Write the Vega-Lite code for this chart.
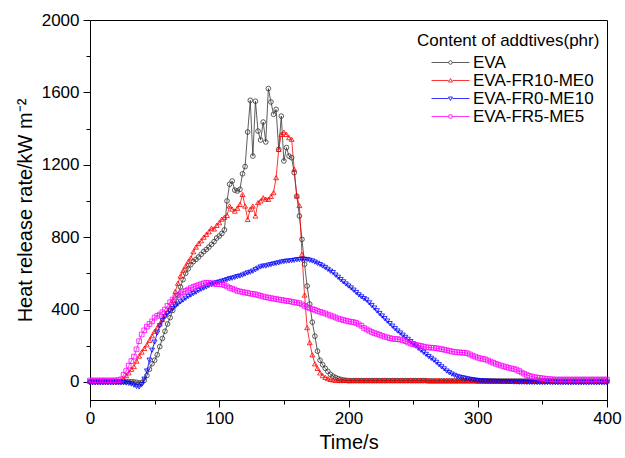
{
"$schema": "https://vega.github.io/schema/vega-lite/v6.json",
"width": 517, "height": 380,
"autosize": "none",
"padding": {"left": 90, "top": 20, "right": 18, "bottom": 58},
"background": "white",
"config": {
  "view": {"stroke": "black", "strokeWidth": 1},
  "font": "Liberation Sans",
  "axis": {"domainColor": "black", "tickColor": "black", "labelColor": "black", "titleColor": "black", "labelFontSize": 17, "titleFontSize": 20, "titleFontWeight": "normal", "labelFont": "Liberation Sans", "titleFont": "Liberation Sans", "grid": false, "tickWidth": 1, "domainWidth": 1},
  "legend": {"labelFont": "Liberation Sans", "titleFont": "Liberation Sans"}
},
"data": {"values": [
{"s":"EVA","t":0,"v":2},{"s":"EVA","t":2,"v":2},{"s":"EVA","t":4,"v":2},{"s":"EVA","t":6,"v":2},{"s":"EVA","t":8,"v":2},{"s":"EVA","t":10,"v":2},{"s":"EVA","t":12,"v":2},{"s":"EVA","t":14,"v":2},{"s":"EVA","t":16,"v":2},{"s":"EVA","t":18,"v":2},
{"s":"EVA","t":20,"v":2},{"s":"EVA","t":22,"v":2},{"s":"EVA","t":24,"v":2},{"s":"EVA","t":26,"v":2},{"s":"EVA","t":28,"v":2},{"s":"EVA","t":30,"v":2},{"s":"EVA","t":32,"v":1},{"s":"EVA","t":34,"v":0},{"s":"EVA","t":36,"v":-2},{"s":"EVA","t":38,"v":-6},
{"s":"EVA","t":40,"v":-4},{"s":"EVA","t":42,"v":8},{"s":"EVA","t":44,"v":35},{"s":"EVA","t":46,"v":70},{"s":"EVA","t":48,"v":100},{"s":"EVA","t":50,"v":120},{"s":"EVA","t":52,"v":150},{"s":"EVA","t":54,"v":195},{"s":"EVA","t":56,"v":240},{"s":"EVA","t":58,"v":280},
{"s":"EVA","t":60,"v":320},{"s":"EVA","t":62,"v":355},{"s":"EVA","t":64,"v":395},{"s":"EVA","t":66,"v":430},{"s":"EVA","t":68,"v":480},{"s":"EVA","t":70,"v":525},{"s":"EVA","t":72,"v":565},{"s":"EVA","t":74,"v":600},{"s":"EVA","t":76,"v":625},{"s":"EVA","t":78,"v":648},
{"s":"EVA","t":80,"v":665},{"s":"EVA","t":82,"v":677},{"s":"EVA","t":84,"v":690},{"s":"EVA","t":86,"v":705},{"s":"EVA","t":88,"v":720},{"s":"EVA","t":90,"v":732},{"s":"EVA","t":92,"v":745},{"s":"EVA","t":94,"v":760},{"s":"EVA","t":96,"v":775},{"s":"EVA","t":98,"v":795},
{"s":"EVA","t":100,"v":806},{"s":"EVA","t":102,"v":820},{"s":"EVA","t":104,"v":840},{"s":"EVA","t":106,"v":1000},{"s":"EVA","t":108,"v":1092},{"s":"EVA","t":110,"v":1110},{"s":"EVA","t":112,"v":1060},{"s":"EVA","t":114,"v":1055},{"s":"EVA","t":116,"v":1064},{"s":"EVA","t":118,"v":1150},
{"s":"EVA","t":120,"v":1190},{"s":"EVA","t":122,"v":1381},{"s":"EVA","t":124,"v":1556},{"s":"EVA","t":126,"v":1248},{"s":"EVA","t":128,"v":1551},{"s":"EVA","t":130,"v":1386},{"s":"EVA","t":132,"v":1337},{"s":"EVA","t":134,"v":1436},{"s":"EVA","t":136,"v":1326},{"s":"EVA","t":138,"v":1621},
{"s":"EVA","t":140,"v":1547},{"s":"EVA","t":142,"v":1479},{"s":"EVA","t":144,"v":1506},{"s":"EVA","t":146,"v":1285},{"s":"EVA","t":148,"v":1469},{"s":"EVA","t":150,"v":1221},{"s":"EVA","t":152,"v":1295},{"s":"EVA","t":154,"v":1248},{"s":"EVA","t":156,"v":1239},{"s":"EVA","t":158,"v":1156},
{"s":"EVA","t":160,"v":1027},{"s":"EVA","t":162,"v":917},{"s":"EVA","t":164,"v":788},{"s":"EVA","t":166,"v":650},{"s":"EVA","t":168,"v":530},{"s":"EVA","t":170,"v":430},{"s":"EVA","t":172,"v":330},{"s":"EVA","t":174,"v":253},{"s":"EVA","t":176,"v":170},{"s":"EVA","t":178,"v":120},
{"s":"EVA","t":180,"v":95},{"s":"EVA","t":182,"v":75},{"s":"EVA","t":184,"v":58},{"s":"EVA","t":186,"v":42},{"s":"EVA","t":188,"v":32},{"s":"EVA","t":190,"v":24},{"s":"EVA","t":192,"v":18},{"s":"EVA","t":194,"v":14},{"s":"EVA","t":196,"v":11},{"s":"EVA","t":198,"v":9},
{"s":"EVA","t":200,"v":7},{"s":"EVA","t":202,"v":7},{"s":"EVA","t":204,"v":7},{"s":"EVA","t":206,"v":7},{"s":"EVA","t":208,"v":7},{"s":"EVA","t":210,"v":7},{"s":"EVA","t":212,"v":7},{"s":"EVA","t":214,"v":7},{"s":"EVA","t":216,"v":7},{"s":"EVA","t":218,"v":7},
{"s":"EVA","t":220,"v":7},{"s":"EVA","t":222,"v":7},{"s":"EVA","t":224,"v":7},{"s":"EVA","t":226,"v":7},{"s":"EVA","t":228,"v":7},{"s":"EVA","t":230,"v":7},{"s":"EVA","t":232,"v":7},{"s":"EVA","t":234,"v":7},{"s":"EVA","t":236,"v":7},{"s":"EVA","t":238,"v":7},
{"s":"EVA","t":240,"v":7},{"s":"EVA","t":242,"v":7},{"s":"EVA","t":244,"v":7},{"s":"EVA","t":246,"v":7},{"s":"EVA","t":248,"v":7},{"s":"EVA","t":250,"v":7},{"s":"EVA","t":252,"v":7},{"s":"EVA","t":254,"v":7},{"s":"EVA","t":256,"v":7},{"s":"EVA","t":258,"v":7},
{"s":"EVA","t":260,"v":7},{"s":"EVA","t":262,"v":5},{"s":"EVA","t":264,"v":5},{"s":"EVA","t":266,"v":5},{"s":"EVA","t":268,"v":5},{"s":"EVA","t":270,"v":5},{"s":"EVA","t":272,"v":5},{"s":"EVA","t":274,"v":5},{"s":"EVA","t":276,"v":5},{"s":"EVA","t":278,"v":5},
{"s":"EVA","t":280,"v":5},{"s":"EVA","t":282,"v":5},{"s":"EVA","t":284,"v":5},{"s":"EVA","t":286,"v":5},{"s":"EVA","t":288,"v":5},{"s":"EVA","t":290,"v":5},{"s":"EVA","t":292,"v":5},{"s":"EVA","t":294,"v":5},{"s":"EVA","t":296,"v":5},{"s":"EVA","t":298,"v":5},
{"s":"EVA","t":300,"v":5},{"s":"EVA","t":302,"v":5},{"s":"EVA","t":304,"v":5},{"s":"EVA","t":306,"v":5},{"s":"EVA","t":308,"v":5},{"s":"EVA","t":310,"v":5},{"s":"EVA","t":312,"v":5},{"s":"EVA","t":314,"v":5},{"s":"EVA","t":316,"v":5},{"s":"EVA","t":318,"v":5},
{"s":"EVA","t":320,"v":5},{"s":"EVA","t":322,"v":5},{"s":"EVA","t":324,"v":5},{"s":"EVA","t":326,"v":5},{"s":"EVA","t":328,"v":5},{"s":"EVA","t":330,"v":5},{"s":"EVA","t":332,"v":5},{"s":"EVA","t":334,"v":5},{"s":"EVA","t":336,"v":5},{"s":"EVA","t":338,"v":5},
{"s":"EVA","t":340,"v":5},{"s":"EVA","t":342,"v":5},{"s":"EVA","t":344,"v":5},{"s":"EVA","t":346,"v":5},{"s":"EVA","t":348,"v":5},{"s":"EVA","t":350,"v":5},{"s":"EVA","t":352,"v":5},{"s":"EVA","t":354,"v":5},{"s":"EVA","t":356,"v":5},{"s":"EVA","t":358,"v":5},
{"s":"EVA","t":360,"v":5},{"s":"EVA","t":362,"v":5},{"s":"EVA","t":364,"v":5},{"s":"EVA","t":366,"v":5},{"s":"EVA","t":368,"v":5},{"s":"EVA","t":370,"v":5},{"s":"EVA","t":372,"v":5},{"s":"EVA","t":374,"v":5},{"s":"EVA","t":376,"v":5},{"s":"EVA","t":378,"v":5},
{"s":"EVA","t":380,"v":5},{"s":"EVA","t":382,"v":5},{"s":"EVA","t":384,"v":5},{"s":"EVA","t":386,"v":5},{"s":"EVA","t":388,"v":5},{"s":"EVA","t":390,"v":5},{"s":"EVA","t":392,"v":5},{"s":"EVA","t":394,"v":5},{"s":"EVA","t":396,"v":5},{"s":"EVA","t":398,"v":5},{"s":"EVA","t":400,"v":5},
{"s":"EVA-FR10-ME0","t":0,"v":2},{"s":"EVA-FR10-ME0","t":2,"v":2},{"s":"EVA-FR10-ME0","t":4,"v":2},{"s":"EVA-FR10-ME0","t":6,"v":2},{"s":"EVA-FR10-ME0","t":8,"v":2},{"s":"EVA-FR10-ME0","t":10,"v":2},{"s":"EVA-FR10-ME0","t":12,"v":2},{"s":"EVA-FR10-ME0","t":14,"v":2},{"s":"EVA-FR10-ME0","t":16,"v":2},{"s":"EVA-FR10-ME0","t":18,"v":2},
{"s":"EVA-FR10-ME0","t":20,"v":2},{"s":"EVA-FR10-ME0","t":22,"v":2},{"s":"EVA-FR10-ME0","t":24,"v":2},{"s":"EVA-FR10-ME0","t":26,"v":15},{"s":"EVA-FR10-ME0","t":28,"v":35},{"s":"EVA-FR10-ME0","t":30,"v":50},{"s":"EVA-FR10-ME0","t":32,"v":70},{"s":"EVA-FR10-ME0","t":34,"v":85},{"s":"EVA-FR10-ME0","t":36,"v":115},{"s":"EVA-FR10-ME0","t":38,"v":143},
{"s":"EVA-FR10-ME0","t":40,"v":165},{"s":"EVA-FR10-ME0","t":42,"v":185},{"s":"EVA-FR10-ME0","t":44,"v":205},{"s":"EVA-FR10-ME0","t":46,"v":230},{"s":"EVA-FR10-ME0","t":48,"v":255},{"s":"EVA-FR10-ME0","t":50,"v":280},{"s":"EVA-FR10-ME0","t":52,"v":300},{"s":"EVA-FR10-ME0","t":54,"v":320},{"s":"EVA-FR10-ME0","t":56,"v":345},{"s":"EVA-FR10-ME0","t":58,"v":370},
{"s":"EVA-FR10-ME0","t":60,"v":390},{"s":"EVA-FR10-ME0","t":62,"v":415},{"s":"EVA-FR10-ME0","t":64,"v":450},{"s":"EVA-FR10-ME0","t":66,"v":500},{"s":"EVA-FR10-ME0","t":68,"v":545},{"s":"EVA-FR10-ME0","t":70,"v":585},{"s":"EVA-FR10-ME0","t":72,"v":615},{"s":"EVA-FR10-ME0","t":74,"v":640},{"s":"EVA-FR10-ME0","t":76,"v":665},{"s":"EVA-FR10-ME0","t":78,"v":685},
{"s":"EVA-FR10-ME0","t":80,"v":720},{"s":"EVA-FR10-ME0","t":82,"v":745},{"s":"EVA-FR10-ME0","t":84,"v":765},{"s":"EVA-FR10-ME0","t":86,"v":780},{"s":"EVA-FR10-ME0","t":88,"v":800},{"s":"EVA-FR10-ME0","t":90,"v":815},{"s":"EVA-FR10-ME0","t":92,"v":830},{"s":"EVA-FR10-ME0","t":94,"v":850},{"s":"EVA-FR10-ME0","t":96,"v":845},{"s":"EVA-FR10-ME0","t":98,"v":865},
{"s":"EVA-FR10-ME0","t":100,"v":880},{"s":"EVA-FR10-ME0","t":102,"v":900},{"s":"EVA-FR10-ME0","t":104,"v":910},{"s":"EVA-FR10-ME0","t":106,"v":920},{"s":"EVA-FR10-ME0","t":108,"v":972},{"s":"EVA-FR10-ME0","t":110,"v":955},{"s":"EVA-FR10-ME0","t":112,"v":944},{"s":"EVA-FR10-ME0","t":114,"v":960},{"s":"EVA-FR10-ME0","t":116,"v":981},{"s":"EVA-FR10-ME0","t":118,"v":1036},
{"s":"EVA-FR10-ME0","t":120,"v":972},{"s":"EVA-FR10-ME0","t":122,"v":898},{"s":"EVA-FR10-ME0","t":124,"v":954},{"s":"EVA-FR10-ME0","t":126,"v":972},{"s":"EVA-FR10-ME0","t":128,"v":917},{"s":"EVA-FR10-ME0","t":130,"v":991},{"s":"EVA-FR10-ME0","t":132,"v":1000},{"s":"EVA-FR10-ME0","t":134,"v":1018},{"s":"EVA-FR10-ME0","t":136,"v":1010},{"s":"EVA-FR10-ME0","t":138,"v":1009},
{"s":"EVA-FR10-ME0","t":140,"v":1025},{"s":"EVA-FR10-ME0","t":142,"v":1046},{"s":"EVA-FR10-ME0","t":144,"v":1129},{"s":"EVA-FR10-ME0","t":146,"v":1285},{"s":"EVA-FR10-ME0","t":148,"v":1368},{"s":"EVA-FR10-ME0","t":150,"v":1380},{"s":"EVA-FR10-ME0","t":152,"v":1368},{"s":"EVA-FR10-ME0","t":154,"v":1350},{"s":"EVA-FR10-ME0","t":156,"v":1341},{"s":"EVA-FR10-ME0","t":158,"v":1175},
{"s":"EVA-FR10-ME0","t":160,"v":1027},{"s":"EVA-FR10-ME0","t":162,"v":975},{"s":"EVA-FR10-ME0","t":164,"v":705},{"s":"EVA-FR10-ME0","t":166,"v":480},{"s":"EVA-FR10-ME0","t":168,"v":300},{"s":"EVA-FR10-ME0","t":170,"v":217},{"s":"EVA-FR10-ME0","t":172,"v":150},{"s":"EVA-FR10-ME0","t":174,"v":100},{"s":"EVA-FR10-ME0","t":176,"v":75},{"s":"EVA-FR10-ME0","t":178,"v":50},
{"s":"EVA-FR10-ME0","t":180,"v":35},{"s":"EVA-FR10-ME0","t":182,"v":25},{"s":"EVA-FR10-ME0","t":184,"v":18},{"s":"EVA-FR10-ME0","t":186,"v":14},{"s":"EVA-FR10-ME0","t":188,"v":11},{"s":"EVA-FR10-ME0","t":190,"v":9},{"s":"EVA-FR10-ME0","t":192,"v":8},{"s":"EVA-FR10-ME0","t":194,"v":8},{"s":"EVA-FR10-ME0","t":196,"v":8},{"s":"EVA-FR10-ME0","t":198,"v":8},
{"s":"EVA-FR10-ME0","t":200,"v":8},{"s":"EVA-FR10-ME0","t":202,"v":8},{"s":"EVA-FR10-ME0","t":204,"v":8},{"s":"EVA-FR10-ME0","t":206,"v":8},{"s":"EVA-FR10-ME0","t":208,"v":8},{"s":"EVA-FR10-ME0","t":210,"v":8},{"s":"EVA-FR10-ME0","t":212,"v":8},{"s":"EVA-FR10-ME0","t":214,"v":8},{"s":"EVA-FR10-ME0","t":216,"v":8},{"s":"EVA-FR10-ME0","t":218,"v":8},
{"s":"EVA-FR10-ME0","t":220,"v":8},{"s":"EVA-FR10-ME0","t":222,"v":8},{"s":"EVA-FR10-ME0","t":224,"v":8},{"s":"EVA-FR10-ME0","t":226,"v":8},{"s":"EVA-FR10-ME0","t":228,"v":8},{"s":"EVA-FR10-ME0","t":230,"v":8},{"s":"EVA-FR10-ME0","t":232,"v":8},{"s":"EVA-FR10-ME0","t":234,"v":8},{"s":"EVA-FR10-ME0","t":236,"v":8},{"s":"EVA-FR10-ME0","t":238,"v":8},
{"s":"EVA-FR10-ME0","t":240,"v":8},{"s":"EVA-FR10-ME0","t":242,"v":8},{"s":"EVA-FR10-ME0","t":244,"v":8},{"s":"EVA-FR10-ME0","t":246,"v":8},{"s":"EVA-FR10-ME0","t":248,"v":8},{"s":"EVA-FR10-ME0","t":250,"v":8},{"s":"EVA-FR10-ME0","t":252,"v":8},{"s":"EVA-FR10-ME0","t":254,"v":8},{"s":"EVA-FR10-ME0","t":256,"v":8},{"s":"EVA-FR10-ME0","t":258,"v":8},
{"s":"EVA-FR10-ME0","t":260,"v":8},{"s":"EVA-FR10-ME0","t":262,"v":8},{"s":"EVA-FR10-ME0","t":264,"v":8},{"s":"EVA-FR10-ME0","t":266,"v":8},{"s":"EVA-FR10-ME0","t":268,"v":8},{"s":"EVA-FR10-ME0","t":270,"v":8},{"s":"EVA-FR10-ME0","t":272,"v":8},{"s":"EVA-FR10-ME0","t":274,"v":8},{"s":"EVA-FR10-ME0","t":276,"v":8},{"s":"EVA-FR10-ME0","t":278,"v":8},
{"s":"EVA-FR10-ME0","t":280,"v":8},{"s":"EVA-FR10-ME0","t":282,"v":8},{"s":"EVA-FR10-ME0","t":284,"v":8},{"s":"EVA-FR10-ME0","t":286,"v":8},{"s":"EVA-FR10-ME0","t":288,"v":8},{"s":"EVA-FR10-ME0","t":290,"v":8},{"s":"EVA-FR10-ME0","t":292,"v":8},{"s":"EVA-FR10-ME0","t":294,"v":8},{"s":"EVA-FR10-ME0","t":296,"v":8},{"s":"EVA-FR10-ME0","t":298,"v":8},
{"s":"EVA-FR10-ME0","t":300,"v":5},{"s":"EVA-FR10-ME0","t":302,"v":5},{"s":"EVA-FR10-ME0","t":304,"v":5},{"s":"EVA-FR10-ME0","t":306,"v":5},{"s":"EVA-FR10-ME0","t":308,"v":5},{"s":"EVA-FR10-ME0","t":310,"v":5},{"s":"EVA-FR10-ME0","t":312,"v":5},{"s":"EVA-FR10-ME0","t":314,"v":5},{"s":"EVA-FR10-ME0","t":316,"v":5},{"s":"EVA-FR10-ME0","t":318,"v":5},
{"s":"EVA-FR10-ME0","t":320,"v":5},{"s":"EVA-FR10-ME0","t":322,"v":5},{"s":"EVA-FR10-ME0","t":324,"v":5},{"s":"EVA-FR10-ME0","t":326,"v":5},{"s":"EVA-FR10-ME0","t":328,"v":5},{"s":"EVA-FR10-ME0","t":330,"v":5},{"s":"EVA-FR10-ME0","t":332,"v":5},{"s":"EVA-FR10-ME0","t":334,"v":5},{"s":"EVA-FR10-ME0","t":336,"v":5},{"s":"EVA-FR10-ME0","t":338,"v":5},
{"s":"EVA-FR10-ME0","t":340,"v":5},{"s":"EVA-FR10-ME0","t":342,"v":5},{"s":"EVA-FR10-ME0","t":344,"v":5},{"s":"EVA-FR10-ME0","t":346,"v":5},{"s":"EVA-FR10-ME0","t":348,"v":5},{"s":"EVA-FR10-ME0","t":350,"v":5},{"s":"EVA-FR10-ME0","t":352,"v":5},{"s":"EVA-FR10-ME0","t":354,"v":5},{"s":"EVA-FR10-ME0","t":356,"v":5},{"s":"EVA-FR10-ME0","t":358,"v":5},
{"s":"EVA-FR10-ME0","t":360,"v":5},{"s":"EVA-FR10-ME0","t":362,"v":5},{"s":"EVA-FR10-ME0","t":364,"v":5},{"s":"EVA-FR10-ME0","t":366,"v":5},{"s":"EVA-FR10-ME0","t":368,"v":5},{"s":"EVA-FR10-ME0","t":370,"v":5},{"s":"EVA-FR10-ME0","t":372,"v":5},{"s":"EVA-FR10-ME0","t":374,"v":5},{"s":"EVA-FR10-ME0","t":376,"v":5},{"s":"EVA-FR10-ME0","t":378,"v":5},
{"s":"EVA-FR10-ME0","t":380,"v":5},{"s":"EVA-FR10-ME0","t":382,"v":5},{"s":"EVA-FR10-ME0","t":384,"v":5},{"s":"EVA-FR10-ME0","t":386,"v":5},{"s":"EVA-FR10-ME0","t":388,"v":5},{"s":"EVA-FR10-ME0","t":390,"v":5},{"s":"EVA-FR10-ME0","t":392,"v":5},{"s":"EVA-FR10-ME0","t":394,"v":5},{"s":"EVA-FR10-ME0","t":396,"v":5},{"s":"EVA-FR10-ME0","t":398,"v":5},{"s":"EVA-FR10-ME0","t":400,"v":5},
{"s":"EVA-FR0-ME10","t":0,"v":-5},{"s":"EVA-FR0-ME10","t":2,"v":-5},{"s":"EVA-FR0-ME10","t":4,"v":-5},{"s":"EVA-FR0-ME10","t":6,"v":-5},{"s":"EVA-FR0-ME10","t":8,"v":-5},{"s":"EVA-FR0-ME10","t":10,"v":-5},{"s":"EVA-FR0-ME10","t":12,"v":-5},{"s":"EVA-FR0-ME10","t":14,"v":-5},{"s":"EVA-FR0-ME10","t":16,"v":-5},{"s":"EVA-FR0-ME10","t":18,"v":-5},
{"s":"EVA-FR0-ME10","t":20,"v":-5},{"s":"EVA-FR0-ME10","t":22,"v":-5},{"s":"EVA-FR0-ME10","t":24,"v":-5},{"s":"EVA-FR0-ME10","t":26,"v":-5},{"s":"EVA-FR0-ME10","t":28,"v":-6},{"s":"EVA-FR0-ME10","t":30,"v":-8},{"s":"EVA-FR0-ME10","t":32,"v":-12},{"s":"EVA-FR0-ME10","t":34,"v":-18},{"s":"EVA-FR0-ME10","t":36,"v":-25},{"s":"EVA-FR0-ME10","t":38,"v":-28},
{"s":"EVA-FR0-ME10","t":40,"v":-15},{"s":"EVA-FR0-ME10","t":42,"v":15},{"s":"EVA-FR0-ME10","t":44,"v":60},{"s":"EVA-FR0-ME10","t":46,"v":120},{"s":"EVA-FR0-ME10","t":48,"v":175},{"s":"EVA-FR0-ME10","t":50,"v":220},{"s":"EVA-FR0-ME10","t":52,"v":270},{"s":"EVA-FR0-ME10","t":54,"v":310},{"s":"EVA-FR0-ME10","t":56,"v":340},{"s":"EVA-FR0-ME10","t":58,"v":360},
{"s":"EVA-FR0-ME10","t":60,"v":378},{"s":"EVA-FR0-ME10","t":62,"v":392},{"s":"EVA-FR0-ME10","t":64,"v":405},{"s":"EVA-FR0-ME10","t":66,"v":418},{"s":"EVA-FR0-ME10","t":68,"v":430},{"s":"EVA-FR0-ME10","t":70,"v":442},{"s":"EVA-FR0-ME10","t":72,"v":452},{"s":"EVA-FR0-ME10","t":74,"v":462},{"s":"EVA-FR0-ME10","t":76,"v":472},{"s":"EVA-FR0-ME10","t":78,"v":480},
{"s":"EVA-FR0-ME10","t":80,"v":488},{"s":"EVA-FR0-ME10","t":82,"v":496},{"s":"EVA-FR0-ME10","t":84,"v":505},{"s":"EVA-FR0-ME10","t":86,"v":512},{"s":"EVA-FR0-ME10","t":88,"v":518},{"s":"EVA-FR0-ME10","t":90,"v":525},{"s":"EVA-FR0-ME10","t":92,"v":532},{"s":"EVA-FR0-ME10","t":94,"v":538},{"s":"EVA-FR0-ME10","t":96,"v":544},{"s":"EVA-FR0-ME10","t":98,"v":548},
{"s":"EVA-FR0-ME10","t":100,"v":552},{"s":"EVA-FR0-ME10","t":102,"v":556},{"s":"EVA-FR0-ME10","t":104,"v":560},{"s":"EVA-FR0-ME10","t":106,"v":565},{"s":"EVA-FR0-ME10","t":108,"v":570},{"s":"EVA-FR0-ME10","t":110,"v":573},{"s":"EVA-FR0-ME10","t":112,"v":577},{"s":"EVA-FR0-ME10","t":114,"v":582},{"s":"EVA-FR0-ME10","t":116,"v":585},{"s":"EVA-FR0-ME10","t":118,"v":590},
{"s":"EVA-FR0-ME10","t":120,"v":596},{"s":"EVA-FR0-ME10","t":122,"v":602},{"s":"EVA-FR0-ME10","t":124,"v":606},{"s":"EVA-FR0-ME10","t":126,"v":612},{"s":"EVA-FR0-ME10","t":128,"v":620},{"s":"EVA-FR0-ME10","t":130,"v":628},{"s":"EVA-FR0-ME10","t":132,"v":635},{"s":"EVA-FR0-ME10","t":134,"v":640},{"s":"EVA-FR0-ME10","t":136,"v":640},{"s":"EVA-FR0-ME10","t":138,"v":645},
{"s":"EVA-FR0-ME10","t":140,"v":648},{"s":"EVA-FR0-ME10","t":142,"v":652},{"s":"EVA-FR0-ME10","t":144,"v":655},{"s":"EVA-FR0-ME10","t":146,"v":658},{"s":"EVA-FR0-ME10","t":148,"v":662},{"s":"EVA-FR0-ME10","t":150,"v":665},{"s":"EVA-FR0-ME10","t":152,"v":667},{"s":"EVA-FR0-ME10","t":154,"v":668},{"s":"EVA-FR0-ME10","t":156,"v":670},{"s":"EVA-FR0-ME10","t":158,"v":672},
{"s":"EVA-FR0-ME10","t":160,"v":675},{"s":"EVA-FR0-ME10","t":162,"v":676},{"s":"EVA-FR0-ME10","t":164,"v":677},{"s":"EVA-FR0-ME10","t":166,"v":677},{"s":"EVA-FR0-ME10","t":168,"v":676},{"s":"EVA-FR0-ME10","t":170,"v":672},{"s":"EVA-FR0-ME10","t":172,"v":668},{"s":"EVA-FR0-ME10","t":174,"v":662},{"s":"EVA-FR0-ME10","t":176,"v":655},{"s":"EVA-FR0-ME10","t":178,"v":648},
{"s":"EVA-FR0-ME10","t":180,"v":640},{"s":"EVA-FR0-ME10","t":182,"v":632},{"s":"EVA-FR0-ME10","t":184,"v":622},{"s":"EVA-FR0-ME10","t":186,"v":612},{"s":"EVA-FR0-ME10","t":188,"v":604},{"s":"EVA-FR0-ME10","t":190,"v":590},{"s":"EVA-FR0-ME10","t":192,"v":578},{"s":"EVA-FR0-ME10","t":194,"v":565},{"s":"EVA-FR0-ME10","t":196,"v":553},{"s":"EVA-FR0-ME10","t":198,"v":541},
{"s":"EVA-FR0-ME10","t":200,"v":530},{"s":"EVA-FR0-ME10","t":202,"v":519},{"s":"EVA-FR0-ME10","t":204,"v":507},{"s":"EVA-FR0-ME10","t":206,"v":494},{"s":"EVA-FR0-ME10","t":208,"v":481},{"s":"EVA-FR0-ME10","t":210,"v":470},{"s":"EVA-FR0-ME10","t":212,"v":460},{"s":"EVA-FR0-ME10","t":214,"v":452},{"s":"EVA-FR0-ME10","t":216,"v":437},{"s":"EVA-FR0-ME10","t":218,"v":422},
{"s":"EVA-FR0-ME10","t":220,"v":408},{"s":"EVA-FR0-ME10","t":222,"v":393},{"s":"EVA-FR0-ME10","t":224,"v":378},{"s":"EVA-FR0-ME10","t":226,"v":364},{"s":"EVA-FR0-ME10","t":228,"v":350},{"s":"EVA-FR0-ME10","t":230,"v":336},{"s":"EVA-FR0-ME10","t":232,"v":322},{"s":"EVA-FR0-ME10","t":234,"v":308},{"s":"EVA-FR0-ME10","t":236,"v":294},{"s":"EVA-FR0-ME10","t":238,"v":281},
{"s":"EVA-FR0-ME10","t":240,"v":270},{"s":"EVA-FR0-ME10","t":242,"v":258},{"s":"EVA-FR0-ME10","t":244,"v":246},{"s":"EVA-FR0-ME10","t":246,"v":235},{"s":"EVA-FR0-ME10","t":248,"v":223},{"s":"EVA-FR0-ME10","t":250,"v":210},{"s":"EVA-FR0-ME10","t":252,"v":198},{"s":"EVA-FR0-ME10","t":254,"v":186},{"s":"EVA-FR0-ME10","t":256,"v":175},{"s":"EVA-FR0-ME10","t":258,"v":163},
{"s":"EVA-FR0-ME10","t":260,"v":152},{"s":"EVA-FR0-ME10","t":262,"v":140},{"s":"EVA-FR0-ME10","t":264,"v":130},{"s":"EVA-FR0-ME10","t":266,"v":120},{"s":"EVA-FR0-ME10","t":268,"v":108},{"s":"EVA-FR0-ME10","t":270,"v":95},{"s":"EVA-FR0-ME10","t":272,"v":83},{"s":"EVA-FR0-ME10","t":274,"v":72},{"s":"EVA-FR0-ME10","t":276,"v":60},{"s":"EVA-FR0-ME10","t":278,"v":51},
{"s":"EVA-FR0-ME10","t":280,"v":43},{"s":"EVA-FR0-ME10","t":282,"v":36},{"s":"EVA-FR0-ME10","t":284,"v":30},{"s":"EVA-FR0-ME10","t":286,"v":26},{"s":"EVA-FR0-ME10","t":288,"v":23},{"s":"EVA-FR0-ME10","t":290,"v":20},{"s":"EVA-FR0-ME10","t":292,"v":17},{"s":"EVA-FR0-ME10","t":294,"v":14},{"s":"EVA-FR0-ME10","t":296,"v":12},{"s":"EVA-FR0-ME10","t":298,"v":10},
{"s":"EVA-FR0-ME10","t":300,"v":8},{"s":"EVA-FR0-ME10","t":302,"v":6},{"s":"EVA-FR0-ME10","t":304,"v":5},{"s":"EVA-FR0-ME10","t":306,"v":4},{"s":"EVA-FR0-ME10","t":308,"v":4},{"s":"EVA-FR0-ME10","t":310,"v":3},{"s":"EVA-FR0-ME10","t":312,"v":3},{"s":"EVA-FR0-ME10","t":314,"v":2},{"s":"EVA-FR0-ME10","t":316,"v":2},{"s":"EVA-FR0-ME10","t":318,"v":1},
{"s":"EVA-FR0-ME10","t":320,"v":1},{"s":"EVA-FR0-ME10","t":322,"v":0},{"s":"EVA-FR0-ME10","t":324,"v":0},{"s":"EVA-FR0-ME10","t":326,"v":0},{"s":"EVA-FR0-ME10","t":328,"v":-1},{"s":"EVA-FR0-ME10","t":330,"v":-1},{"s":"EVA-FR0-ME10","t":332,"v":-2},{"s":"EVA-FR0-ME10","t":334,"v":-2},{"s":"EVA-FR0-ME10","t":336,"v":-2},{"s":"EVA-FR0-ME10","t":338,"v":-3},
{"s":"EVA-FR0-ME10","t":340,"v":-3},{"s":"EVA-FR0-ME10","t":342,"v":-3},{"s":"EVA-FR0-ME10","t":344,"v":-3},{"s":"EVA-FR0-ME10","t":346,"v":-4},{"s":"EVA-FR0-ME10","t":348,"v":-4},{"s":"EVA-FR0-ME10","t":350,"v":-4},{"s":"EVA-FR0-ME10","t":352,"v":-4},{"s":"EVA-FR0-ME10","t":354,"v":-4},{"s":"EVA-FR0-ME10","t":356,"v":-4},{"s":"EVA-FR0-ME10","t":358,"v":-4},
{"s":"EVA-FR0-ME10","t":360,"v":-5},{"s":"EVA-FR0-ME10","t":362,"v":-5},{"s":"EVA-FR0-ME10","t":364,"v":-5},{"s":"EVA-FR0-ME10","t":366,"v":-5},{"s":"EVA-FR0-ME10","t":368,"v":-5},{"s":"EVA-FR0-ME10","t":370,"v":-5},{"s":"EVA-FR0-ME10","t":372,"v":-5},{"s":"EVA-FR0-ME10","t":374,"v":-5},{"s":"EVA-FR0-ME10","t":376,"v":-5},{"s":"EVA-FR0-ME10","t":378,"v":-5},
{"s":"EVA-FR0-ME10","t":380,"v":-5},{"s":"EVA-FR0-ME10","t":382,"v":-5},{"s":"EVA-FR0-ME10","t":384,"v":-5},{"s":"EVA-FR0-ME10","t":386,"v":-5},{"s":"EVA-FR0-ME10","t":388,"v":-5},{"s":"EVA-FR0-ME10","t":390,"v":-5},{"s":"EVA-FR0-ME10","t":392,"v":-5},{"s":"EVA-FR0-ME10","t":394,"v":-5},{"s":"EVA-FR0-ME10","t":396,"v":-5},{"s":"EVA-FR0-ME10","t":398,"v":-5},{"s":"EVA-FR0-ME10","t":400,"v":-5},
{"s":"EVA-FR5-ME5","t":0,"v":8},{"s":"EVA-FR5-ME5","t":2,"v":8},{"s":"EVA-FR5-ME5","t":4,"v":8},{"s":"EVA-FR5-ME5","t":6,"v":8},{"s":"EVA-FR5-ME5","t":8,"v":8},{"s":"EVA-FR5-ME5","t":10,"v":8},{"s":"EVA-FR5-ME5","t":12,"v":8},{"s":"EVA-FR5-ME5","t":14,"v":8},{"s":"EVA-FR5-ME5","t":16,"v":8},{"s":"EVA-FR5-ME5","t":18,"v":8},
{"s":"EVA-FR5-ME5","t":20,"v":8},{"s":"EVA-FR5-ME5","t":22,"v":10},{"s":"EVA-FR5-ME5","t":24,"v":14},{"s":"EVA-FR5-ME5","t":26,"v":40},{"s":"EVA-FR5-ME5","t":28,"v":60},{"s":"EVA-FR5-ME5","t":30,"v":90},{"s":"EVA-FR5-ME5","t":32,"v":115},{"s":"EVA-FR5-ME5","t":34,"v":140},{"s":"EVA-FR5-ME5","t":36,"v":180},{"s":"EVA-FR5-ME5","t":38,"v":225},
{"s":"EVA-FR5-ME5","t":40,"v":262},{"s":"EVA-FR5-ME5","t":42,"v":285},{"s":"EVA-FR5-ME5","t":44,"v":305},{"s":"EVA-FR5-ME5","t":46,"v":320},{"s":"EVA-FR5-ME5","t":48,"v":335},{"s":"EVA-FR5-ME5","t":50,"v":355},{"s":"EVA-FR5-ME5","t":52,"v":365},{"s":"EVA-FR5-ME5","t":54,"v":372},{"s":"EVA-FR5-ME5","t":56,"v":385},{"s":"EVA-FR5-ME5","t":58,"v":400},
{"s":"EVA-FR5-ME5","t":60,"v":420},{"s":"EVA-FR5-ME5","t":62,"v":440},{"s":"EVA-FR5-ME5","t":64,"v":455},{"s":"EVA-FR5-ME5","t":66,"v":468},{"s":"EVA-FR5-ME5","t":68,"v":478},{"s":"EVA-FR5-ME5","t":70,"v":488},{"s":"EVA-FR5-ME5","t":72,"v":496},{"s":"EVA-FR5-ME5","t":74,"v":503},{"s":"EVA-FR5-ME5","t":76,"v":510},{"s":"EVA-FR5-ME5","t":78,"v":518},
{"s":"EVA-FR5-ME5","t":80,"v":525},{"s":"EVA-FR5-ME5","t":82,"v":530},{"s":"EVA-FR5-ME5","t":84,"v":535},{"s":"EVA-FR5-ME5","t":86,"v":540},{"s":"EVA-FR5-ME5","t":88,"v":545},{"s":"EVA-FR5-ME5","t":90,"v":548},{"s":"EVA-FR5-ME5","t":92,"v":548},{"s":"EVA-FR5-ME5","t":94,"v":545},{"s":"EVA-FR5-ME5","t":96,"v":543},{"s":"EVA-FR5-ME5","t":98,"v":540},
{"s":"EVA-FR5-ME5","t":100,"v":540},{"s":"EVA-FR5-ME5","t":102,"v":539},{"s":"EVA-FR5-ME5","t":104,"v":535},{"s":"EVA-FR5-ME5","t":106,"v":528},{"s":"EVA-FR5-ME5","t":108,"v":520},{"s":"EVA-FR5-ME5","t":110,"v":515},{"s":"EVA-FR5-ME5","t":112,"v":510},{"s":"EVA-FR5-ME5","t":114,"v":503},{"s":"EVA-FR5-ME5","t":116,"v":500},{"s":"EVA-FR5-ME5","t":118,"v":497},
{"s":"EVA-FR5-ME5","t":120,"v":494},{"s":"EVA-FR5-ME5","t":122,"v":491},{"s":"EVA-FR5-ME5","t":124,"v":488},{"s":"EVA-FR5-ME5","t":126,"v":486},{"s":"EVA-FR5-ME5","t":128,"v":484},{"s":"EVA-FR5-ME5","t":130,"v":480},{"s":"EVA-FR5-ME5","t":132,"v":476},{"s":"EVA-FR5-ME5","t":134,"v":472},{"s":"EVA-FR5-ME5","t":136,"v":468},{"s":"EVA-FR5-ME5","t":138,"v":466},
{"s":"EVA-FR5-ME5","t":140,"v":463},{"s":"EVA-FR5-ME5","t":142,"v":460},{"s":"EVA-FR5-ME5","t":144,"v":458},{"s":"EVA-FR5-ME5","t":146,"v":455},{"s":"EVA-FR5-ME5","t":148,"v":453},{"s":"EVA-FR5-ME5","t":150,"v":450},{"s":"EVA-FR5-ME5","t":152,"v":448},{"s":"EVA-FR5-ME5","t":154,"v":446},{"s":"EVA-FR5-ME5","t":156,"v":443},{"s":"EVA-FR5-ME5","t":158,"v":440},
{"s":"EVA-FR5-ME5","t":160,"v":438},{"s":"EVA-FR5-ME5","t":162,"v":435},{"s":"EVA-FR5-ME5","t":164,"v":428},{"s":"EVA-FR5-ME5","t":166,"v":420},{"s":"EVA-FR5-ME5","t":168,"v":413},{"s":"EVA-FR5-ME5","t":170,"v":408},{"s":"EVA-FR5-ME5","t":172,"v":402},{"s":"EVA-FR5-ME5","t":174,"v":398},{"s":"EVA-FR5-ME5","t":176,"v":392},{"s":"EVA-FR5-ME5","t":178,"v":387},
{"s":"EVA-FR5-ME5","t":180,"v":383},{"s":"EVA-FR5-ME5","t":182,"v":378},{"s":"EVA-FR5-ME5","t":184,"v":372},{"s":"EVA-FR5-ME5","t":186,"v":367},{"s":"EVA-FR5-ME5","t":188,"v":362},{"s":"EVA-FR5-ME5","t":190,"v":356},{"s":"EVA-FR5-ME5","t":192,"v":350},{"s":"EVA-FR5-ME5","t":194,"v":346},{"s":"EVA-FR5-ME5","t":196,"v":342},{"s":"EVA-FR5-ME5","t":198,"v":338},
{"s":"EVA-FR5-ME5","t":200,"v":335},{"s":"EVA-FR5-ME5","t":202,"v":332},{"s":"EVA-FR5-ME5","t":204,"v":330},{"s":"EVA-FR5-ME5","t":206,"v":326},{"s":"EVA-FR5-ME5","t":208,"v":318},{"s":"EVA-FR5-ME5","t":210,"v":310},{"s":"EVA-FR5-ME5","t":212,"v":298},{"s":"EVA-FR5-ME5","t":214,"v":290},{"s":"EVA-FR5-ME5","t":216,"v":283},{"s":"EVA-FR5-ME5","t":218,"v":276},
{"s":"EVA-FR5-ME5","t":220,"v":270},{"s":"EVA-FR5-ME5","t":222,"v":265},{"s":"EVA-FR5-ME5","t":224,"v":260},{"s":"EVA-FR5-ME5","t":226,"v":255},{"s":"EVA-FR5-ME5","t":228,"v":250},{"s":"EVA-FR5-ME5","t":230,"v":246},{"s":"EVA-FR5-ME5","t":232,"v":242},{"s":"EVA-FR5-ME5","t":234,"v":239},{"s":"EVA-FR5-ME5","t":236,"v":237},{"s":"EVA-FR5-ME5","t":238,"v":236},
{"s":"EVA-FR5-ME5","t":240,"v":234},{"s":"EVA-FR5-ME5","t":242,"v":230},{"s":"EVA-FR5-ME5","t":244,"v":225},{"s":"EVA-FR5-ME5","t":246,"v":218},{"s":"EVA-FR5-ME5","t":248,"v":212},{"s":"EVA-FR5-ME5","t":250,"v":208},{"s":"EVA-FR5-ME5","t":252,"v":205},{"s":"EVA-FR5-ME5","t":254,"v":202},{"s":"EVA-FR5-ME5","t":256,"v":199},{"s":"EVA-FR5-ME5","t":258,"v":195},
{"s":"EVA-FR5-ME5","t":260,"v":192},{"s":"EVA-FR5-ME5","t":262,"v":190},{"s":"EVA-FR5-ME5","t":264,"v":189},{"s":"EVA-FR5-ME5","t":266,"v":188},{"s":"EVA-FR5-ME5","t":268,"v":186},{"s":"EVA-FR5-ME5","t":270,"v":184},{"s":"EVA-FR5-ME5","t":272,"v":181},{"s":"EVA-FR5-ME5","t":274,"v":178},{"s":"EVA-FR5-ME5","t":276,"v":175},{"s":"EVA-FR5-ME5","t":278,"v":172},
{"s":"EVA-FR5-ME5","t":280,"v":168},{"s":"EVA-FR5-ME5","t":282,"v":166},{"s":"EVA-FR5-ME5","t":284,"v":164},{"s":"EVA-FR5-ME5","t":286,"v":163},{"s":"EVA-FR5-ME5","t":288,"v":162},{"s":"EVA-FR5-ME5","t":290,"v":161},{"s":"EVA-FR5-ME5","t":292,"v":158},{"s":"EVA-FR5-ME5","t":294,"v":152},{"s":"EVA-FR5-ME5","t":296,"v":145},{"s":"EVA-FR5-ME5","t":298,"v":140},
{"s":"EVA-FR5-ME5","t":300,"v":134},{"s":"EVA-FR5-ME5","t":302,"v":130},{"s":"EVA-FR5-ME5","t":304,"v":127},{"s":"EVA-FR5-ME5","t":306,"v":124},{"s":"EVA-FR5-ME5","t":308,"v":118},{"s":"EVA-FR5-ME5","t":310,"v":112},{"s":"EVA-FR5-ME5","t":312,"v":106},{"s":"EVA-FR5-ME5","t":314,"v":100},{"s":"EVA-FR5-ME5","t":316,"v":95},{"s":"EVA-FR5-ME5","t":318,"v":90},
{"s":"EVA-FR5-ME5","t":320,"v":86},{"s":"EVA-FR5-ME5","t":322,"v":82},{"s":"EVA-FR5-ME5","t":324,"v":78},{"s":"EVA-FR5-ME5","t":326,"v":74},{"s":"EVA-FR5-ME5","t":328,"v":71},{"s":"EVA-FR5-ME5","t":330,"v":68},{"s":"EVA-FR5-ME5","t":332,"v":60},{"s":"EVA-FR5-ME5","t":334,"v":52},{"s":"EVA-FR5-ME5","t":336,"v":45},{"s":"EVA-FR5-ME5","t":338,"v":38},
{"s":"EVA-FR5-ME5","t":340,"v":33},{"s":"EVA-FR5-ME5","t":342,"v":29},{"s":"EVA-FR5-ME5","t":344,"v":26},{"s":"EVA-FR5-ME5","t":346,"v":24},{"s":"EVA-FR5-ME5","t":348,"v":22},{"s":"EVA-FR5-ME5","t":350,"v":20},{"s":"EVA-FR5-ME5","t":352,"v":18},{"s":"EVA-FR5-ME5","t":354,"v":16},{"s":"EVA-FR5-ME5","t":356,"v":15},{"s":"EVA-FR5-ME5","t":358,"v":14},
{"s":"EVA-FR5-ME5","t":360,"v":13},{"s":"EVA-FR5-ME5","t":362,"v":13},{"s":"EVA-FR5-ME5","t":364,"v":13},{"s":"EVA-FR5-ME5","t":366,"v":13},{"s":"EVA-FR5-ME5","t":368,"v":13},{"s":"EVA-FR5-ME5","t":370,"v":13},{"s":"EVA-FR5-ME5","t":372,"v":13},{"s":"EVA-FR5-ME5","t":374,"v":13},{"s":"EVA-FR5-ME5","t":376,"v":13},{"s":"EVA-FR5-ME5","t":378,"v":13},
{"s":"EVA-FR5-ME5","t":380,"v":13},{"s":"EVA-FR5-ME5","t":382,"v":13},{"s":"EVA-FR5-ME5","t":384,"v":13},{"s":"EVA-FR5-ME5","t":386,"v":13},{"s":"EVA-FR5-ME5","t":388,"v":13},{"s":"EVA-FR5-ME5","t":390,"v":13},{"s":"EVA-FR5-ME5","t":392,"v":13},{"s":"EVA-FR5-ME5","t":394,"v":13},{"s":"EVA-FR5-ME5","t":396,"v":13},{"s":"EVA-FR5-ME5","t":398,"v":13},{"s":"EVA-FR5-ME5","t":400,"v":13}
]},
"encoding": {
  "x": {"field": "t", "type": "quantitative", "scale": {"domain": [0, 400], "nice": false},
        "axis": {"title": "Time/s", "values": [0,50,100,150,200,250,300,350,400],
                 "labelExpr": "datum.value % 100 === 0 ? datum.label : ''",
                 "tickSize": {"condition": {"test": "datum.value % 100 === 0", "value": 7}, "value": 4},
                 "labelPadding": 3, "titlePadding": 6, "labelFlush": false}},
  "y": {"field": "v", "type": "quantitative", "scale": {"domain": [-100, 2000], "nice": false, "zero": false},
        "axis": {"title": "Heat release rate/kW m⁻²", "values": [0,200,400,600,800,1000,1200,1400,1600,1800,2000], "format": "d",
                 "labelExpr": "datum.value % 400 === 0 ? datum.label : ''",
                 "tickSize": {"condition": {"test": "datum.value % 400 === 0", "value": 7}, "value": 4},
                 "labelPadding": 4, "titlePadding": 6}},
  "color": {"field": "s", "type": "nominal",
            "scale": {"domain": ["EVA", "EVA-FR10-ME0", "EVA-FR0-ME10", "EVA-FR5-ME5"], "range": ["#333333", "#ff0000", "#0000ff", "#ff00ff"]},
            "legend": {"orient": "none", "legendX": 327, "legendY": 13, "title": "Content of addtives(phr)",
                       "titleFontSize": 17, "titleFontWeight": "normal", "titleColor": "black", "labelColor": "black",
                       "labelFontSize": 17, "symbolSize": 16, "symbolStrokeWidth": 0.8, "rowPadding": 0,
                       "labelOffset": 14, "symbolOffset": 25, "titlePadding": 4, "labelLimit": 400, "titleLimit": 400}}
},
"layer": [
  {"mark": {"type": "line", "strokeWidth": 0.8},
   "encoding": {"color": null, "detail": {"field": "s", "type": "nominal"},
                "stroke": {"field": "s", "type": "nominal", "legend": null,
                          "scale": {"domain": ["EVA", "EVA-FR10-ME0", "EVA-FR0-ME10", "EVA-FR5-ME5"], "range": ["#333333", "#ff0000", "#0000ff", "#ff00ff"]}}}},
  {"transform": [{"filter": "datum.s === 'EVA'"}],
   "mark": {"type": "point", "shape": "circle", "filled": false, "size": 22, "strokeWidth": 0.8, "opacity": 1}},
  {"transform": [{"filter": "datum.s === 'EVA-FR10-ME0'"}],
   "mark": {"type": "point", "shape": "triangle-up", "filled": false, "size": 24, "strokeWidth": 0.8, "opacity": 1}},
  {"transform": [{"filter": "datum.s === 'EVA-FR0-ME10'"}],
   "mark": {"type": "point", "shape": "triangle-down", "filled": false, "size": 24, "strokeWidth": 0.8, "opacity": 1}},
  {"transform": [{"filter": "datum.s === 'EVA-FR5-ME5'"}],
   "mark": {"type": "point", "shape": "square", "filled": false, "size": 22, "strokeWidth": 0.8, "opacity": 1}},
  {"transform": [{"filter": "false"}],
   "mark": {"type": "point", "filled": false, "size": 16, "strokeWidth": 0.8, "opacity": 1},
   "encoding": {
     "shape": {"field": "s", "type": "nominal",
               "scale": {"domain": ["EVA", "EVA-FR10-ME0", "EVA-FR0-ME10", "EVA-FR5-ME5"],
                         "range": ["M-9.5,0L-0.9,0M0.9,0L9.5,0M-0.9,0L-0.64,-0.64L0,-0.9L0.64,-0.64L0.9,0L0.64,0.64L0,0.9L-0.64,0.64Z",
                                   "M-9.5,0L-1,0M1,0L9.5,0M0,-1L1,0.75L-1,0.75Z",
                                   "M-9.5,0L-1,0M1,0L9.5,0M0,1L1,-0.75L-1,-0.75Z",
                                   "M-9.5,0L-0.8,0M0.8,0L9.5,0M-0.8,-0.8L0.8,-0.8L0.8,0.8L-0.8,0.8Z"]},
               "legend": {"orient": "none", "legendX": 327, "legendY": 13, "title": "Content of addtives(phr)",
                       "titleFontSize": 17, "titleFontWeight": "normal", "titleColor": "black", "labelColor": "black",
                       "labelFontSize": 17, "symbolSize": 16, "symbolStrokeWidth": 0.8, "rowPadding": 0,
                       "labelOffset": 14, "symbolOffset": 25, "titlePadding": 4, "labelLimit": 400, "titleLimit": 400}}
   }}
],
"resolve": {"scale": {"stroke": "independent"}, "legend": {"stroke": "independent"}}
}
